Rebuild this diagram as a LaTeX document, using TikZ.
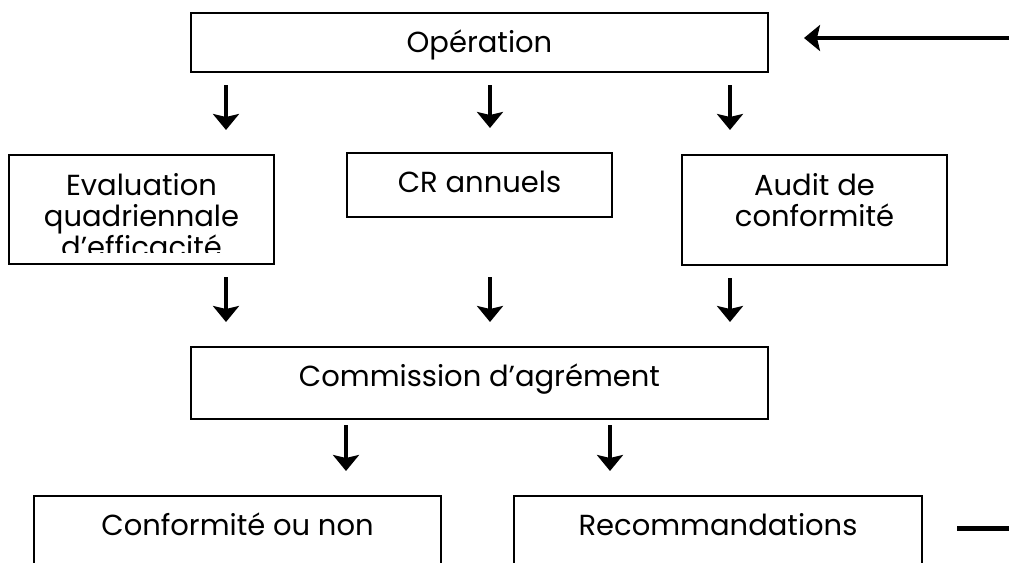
\documentclass[tikz,border=0pt]{standalone}
\usepackage{fontspec}
\setmainfont{Poppins}
\usetikzlibrary{arrows.meta}
\tikzset{
  box/.style={draw, line width=1pt, inner sep=0pt, anchor=north},
  boxtext/.style={anchor=base, align=center, inner sep=0pt, font=\fontsize{14.5}{15.5}\selectfont},
  flowarrow/.style={line width=2pt, -{Stealth[length=8pt,width=13pt,inset=1.5pt]}},
  flowline/.style={line width=2.5pt}
}
\begin{document}
\begin{tikzpicture}[x=0.5pt, y=-0.5pt]
    \clip (0,0) rectangle (1009,563);
    % boxes
    \node[box, minimum width=288.5pt, minimum height=29.5pt] (op)    at (479.5,12)  {};
    \node[box, minimum width=132.5pt, minimum height=54.5pt] (eval)  at (141.5,154) {};
    \node[box, minimum width=132.5pt, minimum height=32pt]   (cr)    at (479.5,152) {};
    \node[box, minimum width=132.5pt, minimum height=55pt]   (audit) at (814.5,154) {};
    \node[box, minimum width=288.5pt, minimum height=36pt]   (com)   at (479.5,346) {};
    \node[box, minimum width=203.5pt, minimum height=60pt]   (conf)  at (237.5,495) {};
    \node[box, minimum width=204pt,   minimum height=60pt]   (rec)   at (718,495)   {};
    % texts (base = last line)
    \node[boxtext] (optext)    at ([yshift=-20pt]op.north)    {Opération};
    \node[boxtext] (crtext)    at ([yshift=-20pt]cr.north)    {CR annuels};
    \node[boxtext] (audittext) at ([yshift=-36pt]audit.north) {Audit de\\conformité};
    \node[boxtext] (comtext)   at ([yshift=-20pt]com.north)   {Commission d’agrément};
    \node[boxtext] (conftext)  at ([yshift=-20pt]conf.north)  {Conformité ou non};
    \node[boxtext] (rectext)   at ([yshift=-20pt]rec.north)   {Recommandations};
    \begin{scope}
        \clip (9,154) rectangle (274,252);
        \node[boxtext] (evaltext) at ([yshift=-51.5pt]eval.north) {Evaluation\\quadriennale\\d’efficacité};
    \end{scope}
    % arrows
    \coordinate (colA) at (226,0);
    \coordinate (colB) at (490,0);
    \coordinate (colC) at (730,0);
    \coordinate (colD) at (346,0);
    \coordinate (colE) at (610,0);
    \draw[flowarrow, shorten <=6pt, shorten >=12pt] (op.south -| colA) -- (eval.north -| colA);
    \draw[flowarrow, shorten <=6pt, shorten >=12pt] (op.south -| colB) -- (cr.north -| colB);
    \draw[flowarrow, shorten <=6pt, shorten >=12pt] (op.south -| colC) -- (audit.north -| colC);
    \draw[flowarrow, shorten <=6pt, shorten >=12pt] (eval.south -| colA) -- (com.north -| colA);
    \draw[flowarrow, shorten <=6pt, shorten >=12pt] (eval.south -| colB) -- (com.north -| colB);
    \draw[flowarrow, shorten <=6pt, shorten >=12pt] (audit.south -| colC) -- (com.north -| colC);
    \draw[flowarrow, shorten <=2.5pt, shorten >=12pt] (com.south -| colD) -- (conf.north -| colD);
    \draw[flowarrow, shorten <=2.5pt, shorten >=12pt] (com.south -| colE) -- (rec.north -| colE);
    % feedback
    \coordinate (feedin) at (1012,38);
    \coordinate (feedout) at (1012,528);
    \draw[flowarrow, shorten >=17.5pt] (feedin) -- (op.east |- feedin);
    \draw[flowline, shorten <=17pt] (rec.east |- feedout) -- (feedout);
\end{tikzpicture}
\end{document}
